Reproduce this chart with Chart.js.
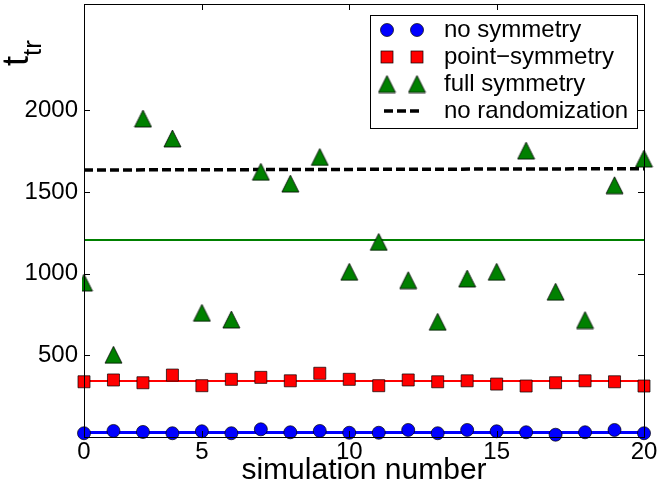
<!DOCTYPE html>
<html>
<head>
<meta charset="utf-8">
<script src="https://cdn.jsdelivr.net/npm/chart.js@4/dist/chart.umd.min.js"></script>
<style>
  html, body { margin: 0; padding: 0; background: #fff; }
  canvas { display: block; }
</style>
</head>
<body>
<canvas id="myChart" width="664" height="486"></canvas>
<script>
// simulation index and transition times
const simNumber = [1, 2, 3, 4, 5, 6, 7, 8, 9, 10, 11, 12, 13, 14, 15, 16, 17, 18, 19, 20];
const noSymmetry = [23, 37, 31, 23, 35, 23, 47, 29, 37, 26, 26, 43, 23, 43, 35, 29, 14, 29, 43, 23];
const pointSymmetry = [338, 349, 332, 379, 314, 353, 365, 344, 390, 353, 314, 349, 338, 344, 324, 312, 332, 344, 338, 312];
const fullSymmetry = [945, 503, 1949, 1827, 760, 719, 1623, 1551, 1714, 1011, 1194, 960, 705, 970, 1011, 1753, 889, 716, 1541, 1704];

// horizontal reference lines (start / end value)
const noSymmetryMean = [27, 27];
const pointSymmetryMean = [342, 342];
const fullSymmetryMean = [1205, 1205];
const noRandomization = [1634, 1642];

const xTickValues = [1, 5, 10, 15, 20];
const xTickLabels = ['0', '5', '10', '15', '20'];
const yTickValues = [500, 1000, 1500, 2000];

const FONT = '"Liberation Sans", Arial, sans-serif';
const BLUE = '#0000ff', RED = '#ff0000', GREEN = '#008000';

const points = (ys) => ys.map((y, i) => ({x: simNumber[i], y: y}));
const hline = (ys) => [{x: simNumber[0], y: ys[0]}, {x: simNumber[simNumber.length - 1], y: ys[1]}];

// matplotlib-like '^' marker (equal width and height, centred)
function makeTriangle(size) {
    const c = document.createElement('canvas');
    c.width = size + 2;
    c.height = size + 2;
    const g = c.getContext('2d');
    g.beginPath();
    g.moveTo(1 + size / 2, 1);
    g.lineTo(1 + size, 1 + size);
    g.lineTo(1, 1 + size);
    g.closePath();
    g.fillStyle = GREEN;
    g.fill();
    g.lineWidth = 0.8;
    g.strokeStyle = '#000';
    g.stroke();
    return c;
}
const triangle = makeTriangle(17);

// box, inward ticks, y label and legend
const decorations = {
    id: 'decorations',
    afterDraw(chart) {
        const ctx = chart.ctx;
        const area = chart.chartArea;
        const xs = chart.scales.x, ys = chart.scales.y;
        ctx.save();
        ctx.strokeStyle = '#000';
        ctx.lineWidth = 1;
        ctx.strokeRect(area.left + 0.5, area.top + 0.5, area.right - area.left, area.bottom - area.top);
        ctx.beginPath();
        xTickValues.forEach(v => {
            const px = Math.round(xs.getPixelForValue(v)) + 0.5;
            ctx.moveTo(px, area.top); ctx.lineTo(px, area.top + 6);
            ctx.moveTo(px, area.bottom); ctx.lineTo(px, area.bottom - 6);
        });
        yTickValues.forEach(v => {
            const py = Math.round(ys.getPixelForValue(v)) + 0.5;
            ctx.moveTo(area.left, py); ctx.lineTo(area.left + 6, py);
            ctx.moveTo(area.right, py); ctx.lineTo(area.right - 6, py);
        });
        ctx.stroke();

        // y axis label t_tr, rotated
        ctx.save();
        ctx.translate(28, 66);
        ctx.rotate(-Math.PI / 2);
        ctx.fillStyle = '#000';
        ctx.textBaseline = 'alphabetic';
        ctx.font = '36px ' + FONT;
        ctx.fillText('t', 0, 0);
        const w = ctx.measureText('t').width;
        ctx.font = '26px ' + FONT;
        ctx.fillText('tr', w, 13);
        ctx.restore();

        // legend
        const lx = 370, ly = 15, lw = 267, lh = 113;
        ctx.fillStyle = '#fff';
        ctx.fillRect(lx, ly, lw, lh);
        ctx.strokeStyle = '#000';
        ctx.lineWidth = 1;
        ctx.strokeRect(lx + 0.5, ly + 0.5, lw, lh);
        const rows = [30, 57, 84, 111];
        const names = ['no symmetry', 'point\u2212symmetry', 'full symmetry', 'no randomization'];
        const mx = [387, 417];
        mx.forEach(x => {
            ctx.beginPath();
            ctx.arc(x, rows[0], 6.5, 0, Math.PI * 2);
            ctx.fillStyle = BLUE; ctx.fill();
            ctx.lineWidth = 0.7; ctx.strokeStyle = '#000'; ctx.stroke();
            ctx.fillStyle = RED;
            ctx.fillRect(x - 6, rows[1] - 6, 12, 12);
            ctx.strokeRect(x - 6, rows[1] - 6, 12, 12);
            ctx.drawImage(triangle, x - triangle.width / 2, rows[2] - triangle.height / 2);
        });
        ctx.beginPath();
        ctx.setLineDash([9, 4]);
        ctx.lineWidth = 3.5;
        ctx.strokeStyle = '#000';
        ctx.moveTo(384, rows[3]); ctx.lineTo(420, rows[3]);
        ctx.stroke();
        ctx.setLineDash([]);
        ctx.fillStyle = '#000';
        ctx.font = '24px ' + FONT;
        ctx.textBaseline = 'middle';
        names.forEach((n, i) => ctx.fillText(n, 444, rows[i]));
        ctx.restore();
    }
};

const ctx = document.getElementById('myChart').getContext('2d');
const myChart = new Chart(ctx, {
    type: 'scatter',
    data: {
        datasets: [
            {
                label: 'no symmetry',
                data: points(noSymmetry),
                pointStyle: 'circle',
                pointRadius: 6.5,
                backgroundColor: BLUE,
                borderColor: '#000',
                borderWidth: 0.7,
                clip: false,
                order: 1
            },
            {
                label: 'point-symmetry',
                data: points(pointSymmetry),
                pointStyle: 'rect',
                pointRadius: 8.5,
                backgroundColor: RED,
                borderColor: '#000',
                borderWidth: 0.7,
                clip: false,
                order: 1
            },
            {
                label: 'full symmetry',
                data: points(fullSymmetry),
                pointStyle: triangle,
                pointRadius: 9,
                clip: {left: 2, top: false, right: false, bottom: false},
                order: 1
            },
            {
                data: hline(noSymmetryMean),
                showLine: true,
                borderColor: BLUE,
                borderWidth: 3,
                pointRadius: 0,
                order: 2
            },
            {
                data: hline(pointSymmetryMean),
                showLine: true,
                borderColor: RED,
                borderWidth: 2,
                pointRadius: 0,
                order: 2
            },
            {
                data: hline(fullSymmetryMean),
                showLine: true,
                borderColor: GREEN,
                borderWidth: 2,
                pointRadius: 0,
                order: 2
            },
            {
                label: 'no randomization',
                data: hline(noRandomization),
                showLine: true,
                borderColor: '#000',
                borderWidth: 3.5,
                borderDash: [9, 4],
                pointRadius: 0,
                order: 2
            }
        ]
    },
    options: {
        responsive: false,
        animation: false,
        layout: {autoPadding: false, padding: {top: 4, right: 20, left: 0, bottom: 0}},
        plugins: {
            legend: {display: false},
            tooltip: {enabled: false}
        },
        scales: {
            x: {
                type: 'linear',
                min: 1,
                max: 20,
                grid: {display: false, drawTicks: false},
                border: {display: false},
                afterBuildTicks: (s) => { s.ticks = xTickValues.map(v => ({value: v})); },
                ticks: {
                    callback: (v) => xTickLabels[xTickValues.indexOf(v)],
                    font: {size: 24, family: FONT},
                    color: '#000',
                    padding: 1,
                    maxRotation: 0,
                    autoSkip: false
                },
                title: {
                    display: true,
                    text: 'simulation number',
                    font: {size: 30, family: FONT, lineHeight: 1.0},
                    color: '#000',
                    padding: 0
                },
                afterFit: (s) => { s.height = 49; s.paddingLeft = 0; s.paddingRight = 0; }
            },
            y: {
                min: 0,
                max: 2650,
                grid: {display: false, drawTicks: false},
                border: {display: false},
                afterBuildTicks: (s) => { s.ticks = yTickValues.map(v => ({value: v})); },
                ticks: {
                    callback: (v) => String(v),
                    font: {size: 24, family: FONT},
                    color: '#000',
                    padding: 6
                },
                afterFit: (s) => { s.width = 84; s.paddingTop = 0; s.paddingBottom = 0; }
            }
        }
    },
    plugins: [decorations]
});
</script>
</body>
</html>
